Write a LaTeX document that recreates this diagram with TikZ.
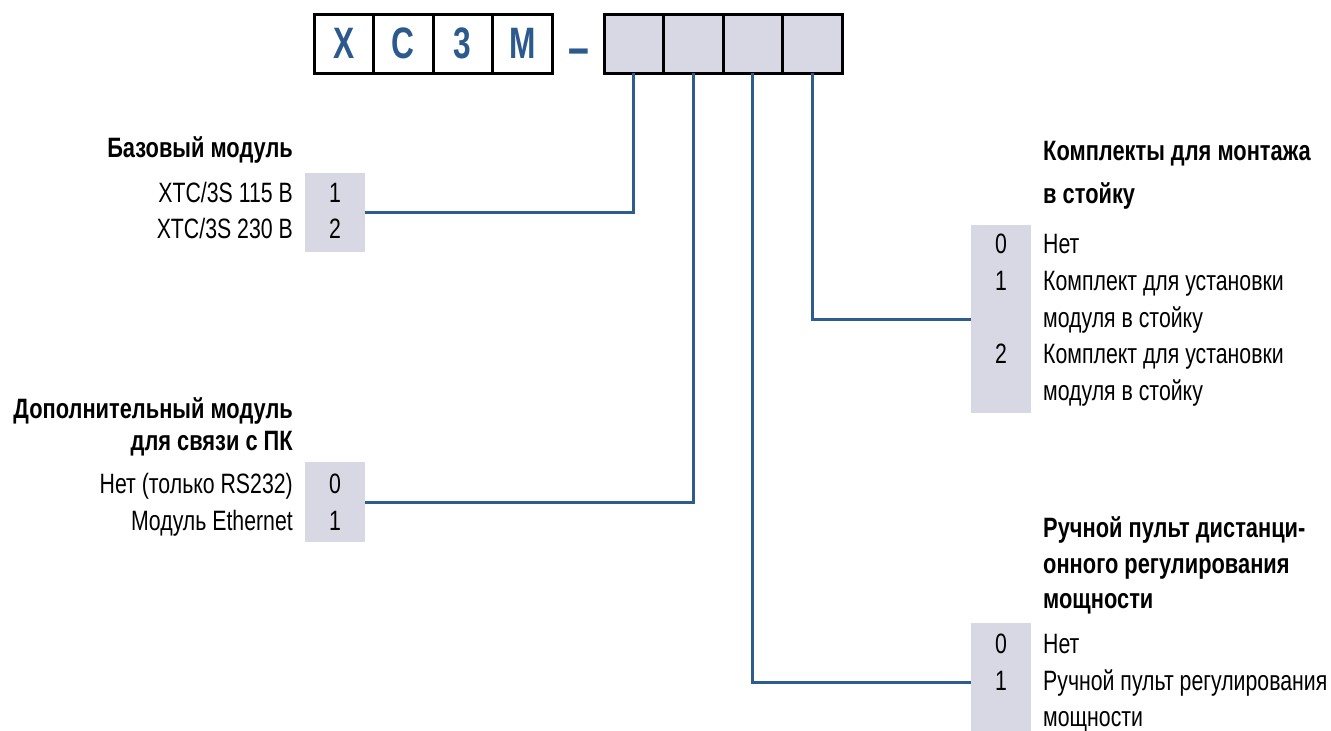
\documentclass[tikz,border=0pt]{standalone}
\usepackage{fontspec}
\setmainfont{Liberation Sans}[FakeStretch=0.76]
\newfontfamily\headfont{Liberation Sans}[FakeStretch=0.78]
\newfontfamily\codefont{Liberation Sans}[FakeStretch=0.72]
\definecolor{codeblue}{RGB}{44,90,140}
\definecolor{linkblue}{RGB}{47,92,142}
\definecolor{optgray}{RGB}{215,216,228}
\tikzset{
  codebox/.style={draw=black, line width=3pt, fill=white, minimum width=59.5pt, minimum height=59pt,
    inner sep=0pt, outer sep=0pt, text=codeblue, font=\codefont\bfseries\fontsize{44}{44}\selectfont},
  selbox/.style={draw=black, line width=3pt, fill=optgray, minimum width=59.5pt, minimum height=59pt,
    inner sep=0pt, outer sep=0pt},
  optbox/.style={fill=optgray, minimum width=60pt, inner sep=0pt, outer sep=0pt},
  head/.style={inner sep=0pt, font=\headfont\bfseries\fontsize{28}{30}\selectfont},
  item/.style={inner sep=0pt, font=\fontsize{28}{30}\selectfont},
  num/.style={inner sep=0pt, anchor=base, font=\fontsize{28}{30}\selectfont},
  link/.style={draw=linkblue, line width=3pt}
}
\begin{document}
\begin{tikzpicture}[x=1pt,y=-1pt]
\clip (0,0) rectangle (1331,731);
\fill[white] (0,0) rectangle (1331,731);

% code boxes
\node[codebox] (c1) at (343.75,43.5) {X};
\node[codebox] (c2) at (403.25,43.5) {C};
\node[codebox] (c3) at (462.75,43.5) {3};
\node[codebox] (c4) at (522.25,43.5) {M};
\node[inner sep=0pt, anchor=base, text=codeblue, font=\codefont\bfseries\fontsize{52}{52}\selectfont] (dash) at (578.5,65) {–};
\node[selbox] (s1) at (633.75,43.5) {};
\node[selbox] (s2) at (693.25,43.5) {};
\node[selbox] (s3) at (752.75,43.5) {};
\node[selbox] (s4) at (812.25,43.5) {};

% Basic module
\node[head, anchor=base east] (h1) at (293,157) {Базовый модуль};
\node[optbox, minimum height=79pt] (o1) at (335,212.5) {};
\node[item, anchor=base east] (t11) at (293,202) {XTC/3S 115 В};
\node[item, anchor=base east] (t12) at (293,238) {XTC/3S 230 В};
\node[num] (n11) at (335,202) {1};
\node[num] (n12) at (335,238) {2};

% Additional module
\node[head, anchor=base east] (h2a) at (293,418) {Дополнительный модуль};
\node[head, anchor=base east] (h2b) at (293,450) {для связи с ПК};
\node[optbox, minimum height=80pt] (o2) at (335,502) {};
\node[item, anchor=base east] (t21) at (293,493) {Нет (только RS232)};
\node[item, anchor=base east] (t22) at (293,530) {Модуль Ethernet};
\node[num] (n21) at (335,493) {0};
\node[num] (n22) at (335,530) {1};

% Rack kits
\node[head, anchor=base west] (h3a) at (1043,160) {Комплекты для монтажа};
\node[head, anchor=base west] (h3b) at (1043,203) {в стойку};
\node[optbox, minimum height=188pt] (o3) at (1001,319) {};
\node[num] (n31) at (1001,253) {0};
\node[num] (n32) at (1001,290) {1};
\node[num] (n33) at (1001,363) {2};
\node[item, anchor=base west] (t31) at (1043,253) {Нет};
\node[item, anchor=base west] (t32) at (1043,290) {Комплект для установки};
\node[item, anchor=base west] (t33) at (1043,327) {модуля в стойку};
\node[item, anchor=base west] (t34) at (1043,363) {Комплект для установки};
\node[item, anchor=base west] (t35) at (1043,400) {модуля в стойку};

% Remote panel
\node[head, anchor=base west] (h4a) at (1043,537) {Ручной пульт дистанци-};
\node[head, anchor=base west] (h4b) at (1043,573) {онного регулирования};
\node[head, anchor=base west] (h4c) at (1043,608) {мощности};
\node[optbox, minimum height=118pt] (o4) at (1001,682) {};
\node[num] (n41) at (1001,653) {0};
\node[num] (n42) at (1001,690) {1};
\node[item, anchor=base west] (t41) at (1043,653) {Нет};
\node[item, anchor=base west] (t42) at (1043,690) {Ручной пульт регулирования};
\node[item, anchor=base west] (t43) at (1043,726) {мощности};

% connectors
\draw[link] (s1.south) |- (o1.east);
\draw[link] (s2.south) |- (o2.east);
\draw[link] (s3.south) |- (o4.west);
\draw[link] (s4.south) |- (o3.west);
\end{tikzpicture}
\end{document}
